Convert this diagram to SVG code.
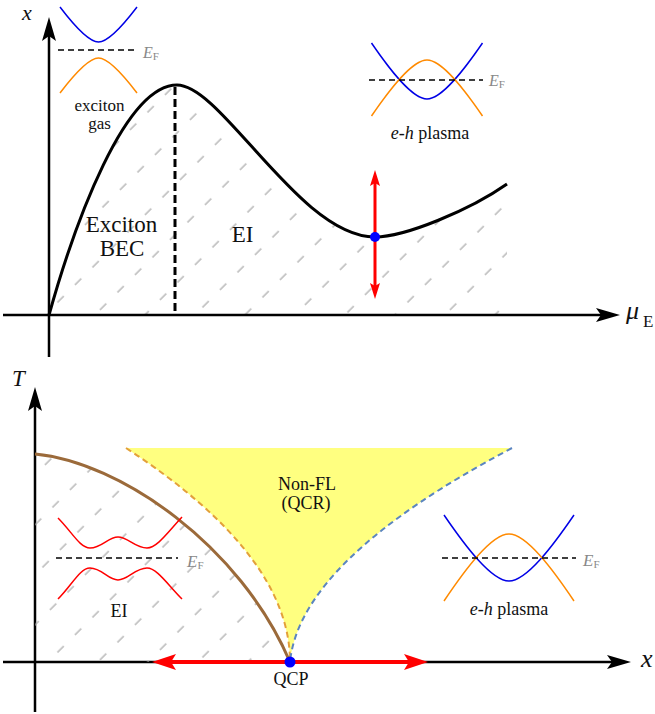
<svg xmlns="http://www.w3.org/2000/svg" width="655" height="714" viewBox="0 0 655 714">
<defs>
<style>
 text { font-family: "Liberation Serif", "DejaVu Serif", serif; fill: #111; }
 .axis { stroke: #000; stroke-width: 2.5; fill: none; }
 .c17 { font-size: 17px; text-anchor: middle; }
 .c18 { font-size: 18px; text-anchor: middle; }
 .c23 { font-size: 23px; text-anchor: middle; }
 .it { font-style: italic; }
 .ef { font-size: 16px; fill: #888; font-style: italic; }
 .ef17 { font-size: 17px; fill: #888; font-style: italic; }
 .sub { font-style: normal; font-size: 11px; }
 .efline { stroke: #000; stroke-width: 1.3; stroke-dasharray: 6 4; fill: none; }
 .cb { stroke: #0000e6; stroke-width: 1.5; fill: none; }
 .vb { stroke: #ff8a00; stroke-width: 1.5; fill: none; }
 .eib { stroke: #ff0000; stroke-width: 1.5; fill: none; }
 .hatch { fill: url(#hatch); stroke: none; }
 .dot { fill: #0000ff; }
</style>
<pattern id="hatch" patternUnits="userSpaceOnUse" width="24.75" height="35.355" patternTransform="rotate(-45)">
  <line x1="0" y1="7" x2="9" y2="7" stroke="#a6a6a6" stroke-width="1.2"/>
</pattern>
<marker id="ax" viewBox="-15 -8 26 16" markerWidth="26" markerHeight="16" refX="0" refY="0" orient="auto" markerUnits="userSpaceOnUse">
  <path d="M-14,-7 L10,0 L-14,7 L-9,0 Z" fill="#000"/>
</marker>
<marker id="redBig" viewBox="-15 -9 26 18" markerWidth="26" markerHeight="18" refX="0" refY="0" orient="auto-start-reverse" markerUnits="userSpaceOnUse">
  <path d="M-14,-8 L10,0 L-14,8 L-9,0 Z" fill="#ff0000"/>
</marker>
<marker id="redSmall" viewBox="-11 -6 18 12" markerWidth="18" markerHeight="12" refX="0" refY="0" orient="auto-start-reverse" markerUnits="userSpaceOnUse">
  <path d="M-10,-5 L6,0 L-10,5 L-7,0 Z" fill="#ff0000"/>
</marker>
</defs>

<!-- ===== TOP PANEL ===== -->
<g id="top-regions">
  <path class="hatch" d="M49,315 C75,222 125,85 177,85 C222,85 300,237 375,237 C405,237 470,210 507,184 L507,315 Z"/>
</g>

<g id="top-boundary">
  <path d="M49,315 C75,222 125,85 177,85 C222,85 300,237 375,237 C405,237 470,210 507,184" stroke="#000" stroke-width="3" fill="none"/>
  <line x1="175" y1="87" x2="175" y2="315" stroke="#000" stroke-width="3" stroke-dasharray="8 4"/>
</g>

<g id="connectors">
  <line class="axis" x1="49" y1="357" x2="49" y2="27" marker-end="url(#ax)"/>
  <line class="axis" x1="3" y1="315" x2="610" y2="315" marker-end="url(#ax)"/>
  <line class="axis" x1="35" y1="712" x2="35" y2="397" marker-end="url(#ax)"/>
  <line class="axis" x1="3" y1="662" x2="621" y2="662" marker-end="url(#ax)"/>
  <line x1="375" y1="176" x2="375" y2="293" stroke="#ff0000" stroke-width="3" marker-start="url(#redSmall)" marker-end="url(#redSmall)"/>
</g>

<g id="top-point">
  <circle class="dot" cx="375" cy="237" r="5"/>
</g>

<g id="top-axis-labels">
  <text x="22" y="20" font-size="22" class="it">x</text>
  <text x="626" y="319" font-size="26" class="it">μ<tspan x="643" y="327" font-size="17" font-style="normal">E</tspan></text>
</g>

<g id="exciton-gas">
  <path class="cb" d="M60,7 C72.7,23.7 88.1,42 98.5,42 C108.9,42 124.3,23.7 137,7"/>
  <path class="vb" d="M60,93 C72.7,76.3 88.1,58 98.5,58 C108.9,58 124.3,76.3 137,93"/>
  <line class="efline" x1="58" y1="50" x2="135" y2="50"/>
  <text class="ef" x="143" y="58">E<tspan class="sub" dy="2">F</tspan></text>
  <text class="c17" x="99.5" y="111">exciton</text>
  <text class="c17" x="99.5" y="129">gas</text>
</g>

<g id="eh-plasma-top">
  <path class="cb" d="M371.5,43 C389.8,69.7 412,99 427,99 C442,99 464.2,69.7 482.5,43"/>
  <path class="vb" d="M371.5,116 C389.8,89.3 412,60 427,60 C442,60 464.2,89.3 482.5,116"/>
  <line class="efline" x1="369" y1="80" x2="483" y2="80"/>
  <text class="ef" x="489" y="86">E<tspan class="sub" dy="2">F</tspan></text>
  <text class="c18" x="430" y="139"><tspan class="it">e</tspan>-<tspan class="it">h</tspan> plasma</text>
</g>

<g id="exciton-bec">
  <text class="c23" x="121.5" y="232">Exciton</text>
  <text class="c23" x="122" y="256">BEC</text>
</g>

<g id="ei-top">
  <text class="c23" x="242.5" y="242">EI</text>
</g>

<!-- ===== BOTTOM PANEL ===== -->
<g id="qcr-region">
  <path d="M126,448 L512,448 Q300,560 290,662 Q290,555 126,448 Z" fill="#ffff80"/>
  <path d="M126,448 Q290,555 290,662" fill="none" stroke="#e3a03a" stroke-width="2" stroke-dasharray="6 4"/>
  <path d="M512,448 Q300,560 290,662" fill="none" stroke="#5b85c0" stroke-width="2" stroke-dasharray="6 4"/>
  <text class="c18" x="307" y="490">Non-FL</text>
  <text class="c18" x="306" y="509">(QCR)</text>
</g>

<g id="ei-bottom">
  <path class="hatch" d="M35,454 C120,462 240,545 290,662 L35,662 Z"/>
  <path d="M35,454 C120,462 240,545 290,662" fill="none" stroke="#9b6a3a" stroke-width="3"/>
  <path class="eib" d="M58,518 C72,532 80,548 90,548 C102,548 108,537 118,537 C128,537 135,548 147,548 C157,548 168,532 182,517"/>
  <path class="eib" d="M58,599 C72,585 80,568 90,568 C102,568 108,580 118,580 C128,580 135,568 147,568 C157,568 168,585 182,599"/>
  <line class="efline" x1="56" y1="558" x2="178" y2="558"/>
  <text class="ef17" x="187" y="567">E<tspan class="sub" dy="2">F</tspan></text>
  <text class="c18" x="119" y="617">EI</text>
</g>

<g id="eh-plasma-bottom">
  <path class="cb" d="M444,515 C465.5,546.4 491.5,581 509,581 C526.5,581 552.5,546.4 574,515"/>
  <path class="vb" d="M444,601 C465.5,569.1 491.5,534 509,534 C526.5,534 552.5,569.1 574,601"/>
  <line class="efline" x1="442" y1="558" x2="576" y2="558"/>
  <text class="ef17" x="583" y="566">E<tspan class="sub" dy="2">F</tspan></text>
  <text class="c18" x="509" y="615"><tspan class="it">e</tspan>-<tspan class="it">h</tspan> plasma</text>
</g>

<g id="qcp">
  <line x1="162" y1="662" x2="418" y2="662" stroke="#ff0000" stroke-width="4" marker-start="url(#redBig)" marker-end="url(#redBig)"/>
  <circle class="dot" cx="290" cy="662" r="5.5"/>
  <text class="c18" x="291" y="685">QCP</text>
</g>

<g id="bottom-axis-labels">
  <text x="12" y="386" font-size="23" class="it">T</text>
  <text x="641" y="667" font-size="26" class="it">x</text>
</g>
</svg>
